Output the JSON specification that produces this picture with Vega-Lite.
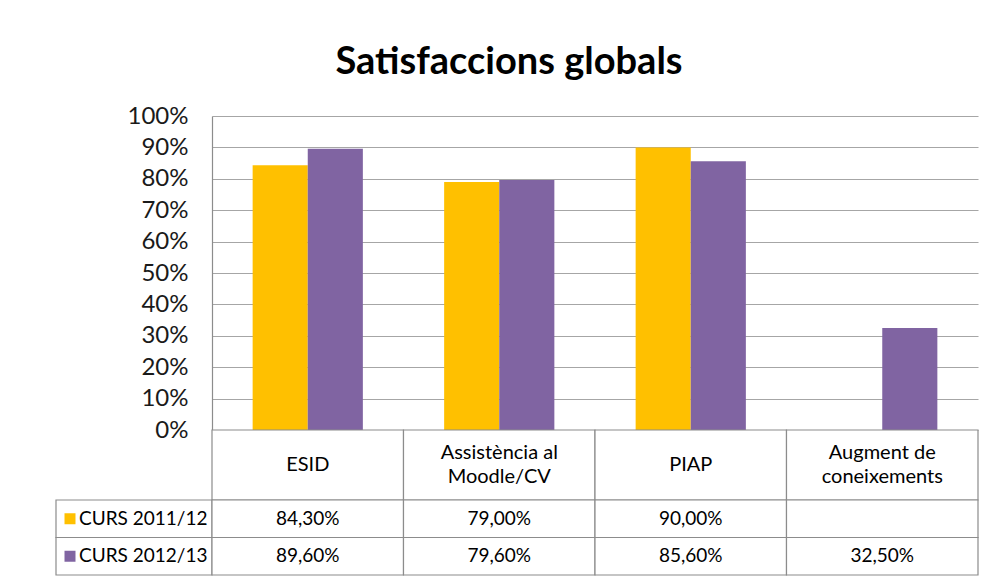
{
  "$schema": "https://vega.github.io/schema/vega-lite/v6.json",
  "background": "white",
  "padding": {"left": 55, "top": 44, "right": 15, "bottom": 5},
  "autosize": {"type": "pad"},
  "config": {
    "font": "Lato",
    "view": {"stroke": null},
    "locale": {"number": {"decimal": ",", "thousands": ".", "grouping": [3], "currency": ["", " €"]}}
  },
  "title": {"text": "Satisfaccions globals", "font": "Lato", "fontSize": 38, "fontWeight": "bold", "color": "black", "anchor": "middle", "offset": 22, "dx": -8},
  "datasets": {
    "d": [
      {"cat": "ESID", "curs": "CURS 2011/12", "val": 0.843},
      {"cat": "Assistència al\nMoodle/CV", "curs": "CURS 2011/12", "val": 0.79},
      {"cat": "PIAP", "curs": "CURS 2011/12", "val": 0.90},
      {"cat": "Augment de\nconeixements", "curs": "CURS 2011/12", "val": null},
      {"cat": "ESID", "curs": "CURS 2012/13", "val": 0.896},
      {"cat": "Assistència al\nMoodle/CV", "curs": "CURS 2012/13", "val": 0.796},
      {"cat": "PIAP", "curs": "CURS 2012/13", "val": 0.856},
      {"cat": "Augment de\nconeixements", "curs": "CURS 2012/13", "val": 0.325}
    ]
  },
  "columns": 2,
  "align": "each",
  "bounds": "flush",
  "spacing": 0,
  "resolve": {"scale": {"color": "shared"}},
  "concat": [
    {
      "width": 156, "height": 314,
      "data": {"values": []},
      "mark": {"type": "point", "opacity": 0},
      "encoding": {}
    },
    {
      "width": 766, "height": 314,
      "data": {"name": "d"},
      "mark": {"type": "bar"},
      "encoding": {
        "x": {"field": "cat", "type": "nominal", "sort": null, "scale": {"paddingInner": 0, "paddingOuter": 0}, "axis": null},
        "xOffset": {"field": "curs", "type": "nominal", "scale": {"paddingInner": 0, "paddingOuter": 0.7375}},
        "y": {"field": "val", "type": "quantitative", "scale": {"domain": [0, 1], "nice": false},
          "axis": {"title": null, "format": ".0%", "values": [0, 0.1, 0.2, 0.3, 0.4, 0.5, 0.6, 0.7, 0.8, 0.9, 1],
            "grid": true, "gridColor": "#a6a6a6", "gridWidth": 1.2, "domain": true, "domainColor": "#8c8c8c", "domainWidth": 1.2,
            "ticks": false, "tickSize": 0, "labelPadding": 24, "labelFontSize": 24, "labelColor": "#1a1a1a", "labelFont": "Lato"}},
        "color": {"field": "curs", "type": "nominal", "scale": {"domain": ["CURS 2011/12", "CURS 2012/13"], "range": ["#FFC000", "#8064A2"]}, "legend": null}
      }
    },
    {
      "width": 156, "height": 70,
      "data": {"values": []},
      "mark": {"type": "point", "opacity": 0},
      "encoding": {}
    },
    {
      "width": 766, "height": 70,
      "data": {"name": "d"},
      "transform": [{"filter": "datum.curs == 'CURS 2012/13'"}],
      "encoding": {
        "x": {"field": "cat", "type": "nominal", "sort": null, "scale": {"paddingInner": 0, "paddingOuter": 0}, "axis": null}
      },
      "layer": [
        {"mark": {"type": "rect", "fill": "white", "stroke": "#8c8c8c", "strokeWidth": 1.2}},
        {"transform": [{"filter": "indexof(datum.cat, '\\n') < 0"}],
         "mark": {"type": "text", "fontSize": 20, "baseline": "middle", "color": "black"},
         "encoding": {"text": {"field": "cat", "type": "nominal"}}},
        {"transform": [{"filter": "indexof(datum.cat, '\\n') >= 0"}],
         "mark": {"type": "text", "fontSize": 20, "lineBreak": "\n", "lineHeight": 24, "baseline": "middle", "dy": -12, "color": "black"},
         "encoding": {"text": {"field": "cat", "type": "nominal"}}}
      ]
    },
    {
      "width": 156, "height": 75,
      "data": {"name": "d"},
      "transform": [{"filter": "datum.cat == 'ESID'"}],
      "encoding": {
        "y": {"field": "curs", "type": "nominal", "scale": {"paddingInner": 0, "paddingOuter": 0}, "axis": null}
      },
      "layer": [
        {"mark": {"type": "rect", "fill": "white", "stroke": "#8c8c8c", "strokeWidth": 1.2}},
        {"mark": {"type": "point", "shape": "square", "size": 121, "filled": true, "opacity": 1, "xOffset": -64},
         "encoding": {"color": {"field": "curs", "type": "nominal", "legend": null}}},
        {"mark": {"type": "text", "fontSize": 19, "align": "left", "baseline": "middle", "dx": -55, "color": "black"},
         "encoding": {"text": {"field": "curs", "type": "nominal"}}}
      ]
    },
    {
      "width": 766, "height": 75,
      "data": {"name": "d"},
      "encoding": {
        "x": {"field": "cat", "type": "nominal", "sort": null, "scale": {"paddingInner": 0, "paddingOuter": 0}, "axis": null},
        "y": {"field": "curs", "type": "nominal", "scale": {"paddingInner": 0, "paddingOuter": 0}, "axis": null}
      },
      "layer": [
        {"mark": {"type": "rect", "fill": "white", "stroke": "#8c8c8c", "strokeWidth": 1.2}},
        {"transform": [{"filter": "datum.val != null"}],
         "mark": {"type": "text", "fontSize": 19, "baseline": "middle", "color": "black"},
         "encoding": {"text": {"field": "val", "type": "quantitative", "format": ".2%"}}}
      ]
    }
  ]
}
